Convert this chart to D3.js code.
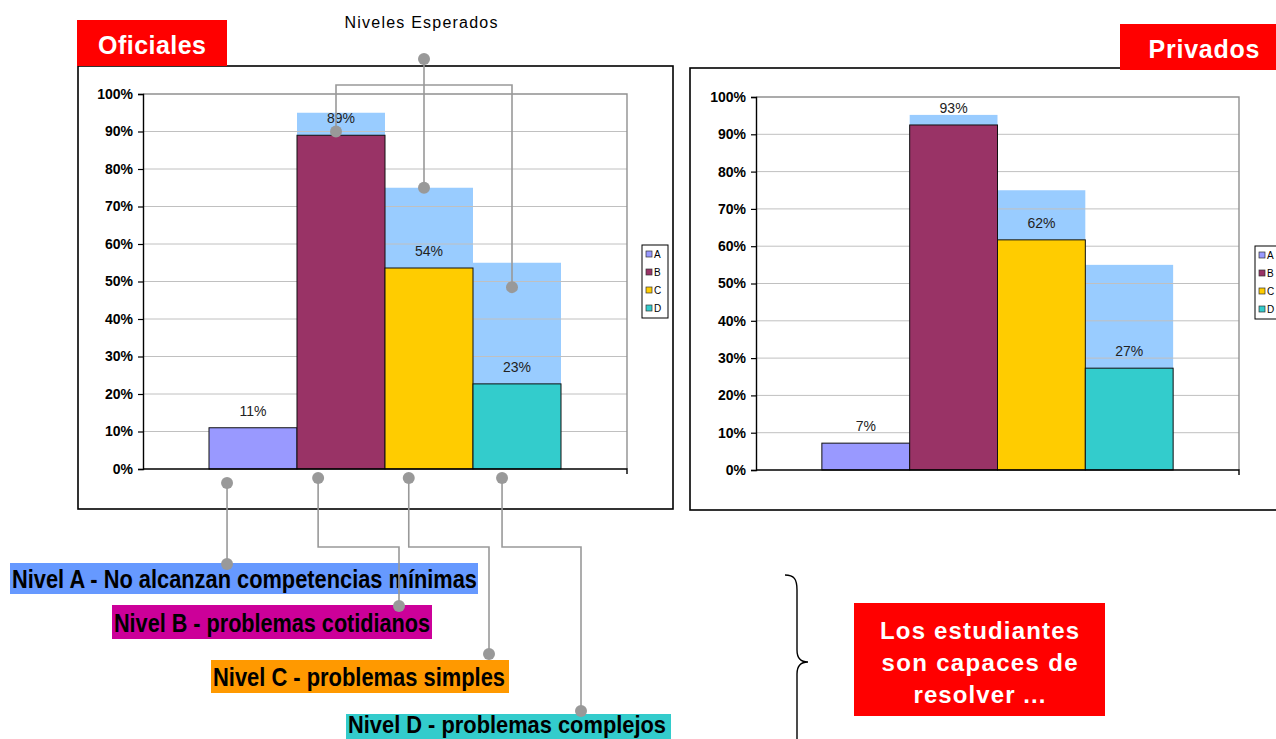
<!DOCTYPE html>
<html><head><meta charset="utf-8">
<script src="https://cdn.jsdelivr.net/npm/d3@7"></script>
<style>
html,body{margin:0;padding:0;background:#fff;overflow:hidden;}
svg{display:block;font-family:"Liberation Sans",Arial,sans-serif;}
</style></head>
<body>
<svg id="c" width="1276" height="739"></svg>
<script>
// ---- data ----
const series = ["A", "B", "C", "D"];
const seriesColors = ["#9999ff", "#993366", "#ffcc00", "#33cccc"];
const oficialesValues = [0.11, 0.89, 0.536, 0.227];
const oficialesExpected = [null, 0.95, 0.75, 0.55];
const privadosValues = [0.072, 0.925, 0.617, 0.273];
const privadosExpected = [null, 0.952, 0.75, 0.55];
const yTicks = [0, 0.1, 0.2, 0.3, 0.4, 0.5, 0.6, 0.7, 0.8, 0.9, 1.0];
const levelLabels = [
  "Nivel A - No alcanzan competencias mínimas",
  "Nivel B - problemas cotidianos",
  "Nivel C - problemas simples",
  "Nivel D - problemas complejos"
];
const levelLabelColors = ["#6699ff", "#cc0099", "#ff9900", "#33cccc"];
const expectedColor = "#99ccff";

const svg = d3.select("#c");

function drawChart(frame, plot, values, expected, legend) {
  const g = svg.append("g");
  g.append("rect").attr("x", frame.x).attr("y", frame.y).attr("width", frame.w).attr("height", frame.h)
    .attr("fill", "#fff").attr("stroke", "#000").attr("stroke-width", 1.6);
  const x = d3.scaleBand().domain(series).range([plot.x0, plot.x1]).paddingInner(0).paddingOuter(0.75);
  const y = d3.scaleLinear().domain([0, 1]).range([plot.y1, plot.y0]);
  g.selectAll(".exp").data(series.map((s, i) => ({s, v: expected[i]})).filter(d => d.v != null))
    .enter().append("rect")
    .attr("x", d => x(d.s)).attr("width", x.bandwidth())
    .attr("y", d => y(d.v)).attr("height", d => y(0) - y(d.v))
    .attr("fill", expectedColor);
  g.selectAll(".grid").data(yTicks.filter(t => t > 0 && t < 1)).enter().append("line")
    .attr("x1", plot.x0).attr("x2", plot.x1).attr("y1", d => y(d)).attr("y2", d => y(d))
    .attr("stroke", "#c0c0c0").attr("stroke-width", 1);
  g.append("path").attr("d", `M${plot.x0},${y(1)}H${plot.x1}V${y(0)}`)
    .attr("fill", "none").attr("stroke", "#909090").attr("stroke-width", 1.4);
  g.selectAll(".bar").data(series.map((s, i) => ({s, v: values[i], c: seriesColors[i]})))
    .enter().append("rect")
    .attr("x", d => x(d.s)).attr("width", x.bandwidth())
    .attr("y", d => y(d.v)).attr("height", d => y(0) - y(d.v))
    .attr("fill", d => d.c).attr("stroke", "#111").attr("stroke-width", 1);
  g.selectAll(".lbl").data(series.map((s, i) => ({s, v: values[i]})))
    .enter().append("text")
    .attr("x", d => x(d.s) + x.bandwidth() / 2).attr("y", d => y(d.v) - 12)
    .attr("text-anchor", "middle").attr("font-size", 14).attr("fill", "#222")
    .text(d => d3.format(".0%")(d.v));
  const ya = g.append("g").attr("transform", `translate(${plot.x0},0)`)
    .call(d3.axisLeft(y).tickValues(yTicks).tickFormat(d3.format(".0%")).tickSize(5).tickPadding(5));
  ya.select(".domain").attr("stroke", "#000").attr("stroke-width", 1.4);
  ya.selectAll(".tick line").attr("stroke", "#000").attr("stroke-width", 1.2);
  ya.selectAll("text").attr("font-size", 14).attr("font-weight", "bold").attr("fill", "#000")
    .attr("font-family", "Liberation Sans, Arial, sans-serif");
  g.append("path").attr("d", `M${plot.x0},${y(0)}H${plot.x1}v5`)
    .attr("fill", "none").attr("stroke", "#000").attr("stroke-width", 1.4);
  const lg = g.append("g");
  lg.append("rect").attr("x", legend.x).attr("y", legend.y).attr("width", 26).attr("height", 73)
    .attr("fill", "#fff").attr("stroke", "#000").attr("stroke-width", 1);
  const ly = d3.scalePoint().domain(series).range([legend.y + 9, legend.y + 63]);
  lg.selectAll(".lm").data(series).enter().append("rect")
    .attr("x", legend.x + 4).attr("y", d => ly(d) - 3).attr("width", 6).attr("height", 6)
    .attr("fill", (d, i) => seriesColors[i]).attr("stroke", "#333").attr("stroke-width", 0.7);
  lg.selectAll(".lt").data(series).enter().append("text")
    .attr("x", legend.x + 12).attr("y", d => ly(d) + 3.5)
    .attr("font-size", 10).attr("fill", "#000").text(d => d);
  return {x, y};
}

const left = drawChart({x: 78, y: 66, w: 595, h: 443}, {x0: 143, x1: 627, y0: 94, y1: 469},
  oficialesValues, oficialesExpected, {x: 642, y: 245});
const right = drawChart({x: 690, y: 68, w: 620, h: 442}, {x0: 756, x1: 1239, y0: 97, y1: 470},
  privadosValues, privadosExpected, {x: 1255, y: 246});

// ---- red title boxes ----
function redBox(x, y, w, h, lines, baselines, lengths, fs, cx) {
  svg.append("rect").attr("x", x).attr("y", y).attr("width", w).attr("height", h).attr("fill", "#ff0000");
  lines.forEach((t, i) => {
    svg.append("text").attr("x", cx != null ? cx : x + w / 2).attr("y", baselines[i]).attr("text-anchor", "middle")
      .attr("font-size", fs).attr("font-weight", "bold").attr("fill", "#fff")
      .attr("textLength", lengths[i]).attr("lengthAdjust", "spacing").text(t);
  });
}
redBox(77, 20, 150, 46, ["Oficiales"], [54], [108], 25);
redBox(1120, 24, 170, 46, ["Privados"], [58], [111], 25, 1204);
redBox(854, 603, 251, 113, ["Los estudiantes", "son capaces de", "resolver ..."], [639, 671, 703], [199, 196, 132], 24);

// ---- "Niveles Esperados" annotation ----
const conn = svg.append("g").attr("stroke", "#999").attr("stroke-width", 1.6).attr("fill", "none");
svg.append("text").attr("x", 421).attr("y", 28).attr("text-anchor", "middle").attr("font-size", 16)
  .attr("fill", "#000").attr("textLength", 153).attr("lengthAdjust", "spacing").text("Niveles Esperados");

const xl = left.x, yl = left.y, bw = xl.bandwidth();
const topX = s => xl(s) + bw / 2 - 5;
const hubY = 59, barY = 85;
conn.append("path").attr("d", `M${topX("C")},${hubY}V${yl(0.75)}`);
conn.append("path").attr("d", `M${topX("B")},${yl(0.9)}V${barY}H${topX("D")}V${yl(0.485)}`);
const dots = svg.append("g").attr("fill", "#999");
[[topX("C"), hubY], [topX("B"), yl(0.9)], [topX("C"), yl(0.75)], [topX("D"), yl(0.485)]].forEach(p =>
  dots.append("circle").attr("cx", p[0]).attr("cy", p[1]).attr("r", 6));

// ---- level labels ----
const labelBoxes = [
  {x: 10, y: 563, w: 468, h: 31, base: 588, tl: 465, fs: 25},
  {x: 112, y: 605, w: 320, h: 34, base: 632, tl: 316, fs: 25},
  {x: 211, y: 660, w: 298, h: 33, base: 686, tl: 292, fs: 25},
  {x: 346, y: 714, w: 325, h: 40, base: 733, tl: 318, fs: 24}
];
levelLabels.forEach((t, i) => {
  const b = labelBoxes[i];
  svg.append("rect").attr("x", b.x).attr("y", b.y).attr("width", b.w).attr("height", b.h).attr("fill", levelLabelColors[i]);
  svg.append("text").attr("x", b.x + 2).attr("y", b.base)
    .attr("font-family", "'Liberation Sans Narrow','Arial Narrow','Liberation Sans',sans-serif")
    .attr("font-size", b.fs).attr("font-weight", "bold").attr("fill", "#000")
    .attr("textLength", b.tl).attr("lengthAdjust", "spacingAndGlyphs").text(t);
});

// bottom connectors
const botStart = [[xl("A") + bw * 0.205, 483], [xl("B") + bw * 0.24, 478], [xl("C") + bw * 0.27, 478], [xl("D") + bw * 0.33, 478]];
const botEnd = [[null, 564], [399, 606], [489, 654], [581, 711]];
const elbowY = 547;
botStart.forEach((p, i) => {
  const e = botEnd[i];
  const ex = e[0] == null ? p[0] : e[0];
  const d = e[0] == null ? `M${p[0]},${p[1]}V${e[1]}` : `M${p[0]},${p[1]}V${elbowY}H${ex}V${e[1]}`;
  conn.append("path").attr("d", d);
  dots.append("circle").attr("cx", p[0]).attr("cy", p[1]).attr("r", 6);
  dots.append("circle").attr("cx", ex).attr("cy", e[1]).attr("r", 6);
});
conn.raise(); dots.raise();

// ---- brace ----
svg.append("path")
  .attr("d", "M785,575 C794,575 797,579 797,590 L797,650 C797,658 800,662 808,662 C800,662 797,666 797,674 L797,745")
  .attr("fill", "none").attr("stroke", "#000").attr("stroke-width", 1.4);
</script>
</body></html>
